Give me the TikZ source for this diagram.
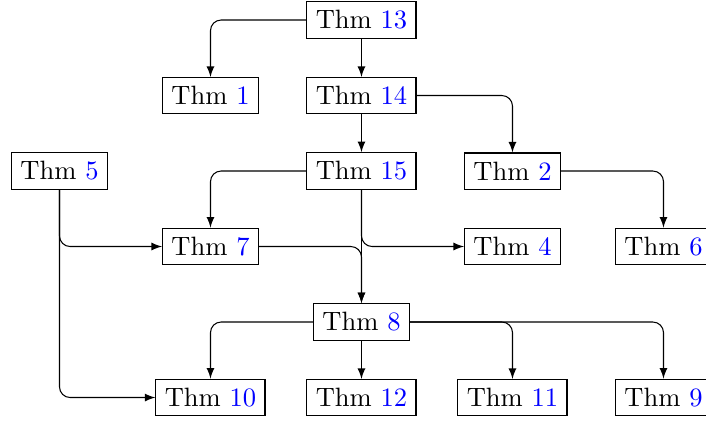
\documentclass[tikz,border=0pt]{standalone}
\usetikzlibrary{arrows}
\tikzset{
  thm/.style={draw, rectangle, inner sep=0.333em, line width=0.4pt},
  link/.style={-latex, rounded corners=4pt, line width=0.4pt},
}
\newcommand{\thmref}[1]{Thm \textcolor{blue}{#1}}
\begin{document}
\begin{tikzpicture}
  \useasboundingbox (-4.788,-5.325) rectangle (4.563,0.265);
  % theorem boxes on a 2cm x 1cm grid
  \node[thm] (t13) at (0,0)  {\thmref{13}};
  \node[thm] (t1)  at (-2,-1) {\thmref{1}};
  \node[thm] (t14) at (0,-1)  {\thmref{14}};
  \node[thm] (t5)  at (-4,-2) {\thmref{5}};
  \node[thm] (t15) at (0,-2)  {\thmref{15}};
  \node[thm] (t2)  at (2,-2)  {\thmref{2}};
  \node[thm] (t7)  at (-2,-3) {\thmref{7}};
  \node[thm] (t4)  at (2,-3)  {\thmref{4}};
  \node[thm] (t6)  at (4,-3)  {\thmref{6}};
  \node[thm] (t8)  at (0,-4)  {\thmref{8}};
  \node[thm] (t10) at (-2,-5) {\thmref{10}};
  \node[thm] (t12) at (0,-5)  {\thmref{12}};
  \node[thm] (t11) at (2,-5)  {\thmref{11}};
  \node[thm] (t9)  at (4,-5)  {\thmref{9}};
  % dependencies
  \draw[link] (t13.west) -| (t1.north);
  \draw[link] (t13) -- (t14);
  \draw[link] (t14) -- (t15);
  \draw[link] (t14.east) -| (t2.north);
  \draw[link] (t15.west) -| (t7.north);
  \draw[link] (t15.south) |- (t4.west);
  \draw[link] (t15) -- (t8);
  \draw[link] (t2.east) -| (t6.north);
  \draw[link] (t5.south) |- (t7.west);
  \draw[link] (t5.south) |- (t10.west);
  \draw[link] (t7.east) -| (t8.north);
  \draw[link] (t8.west) -| (t10.north);
  \draw[link] (t8) -- (t12);
  \draw[link] (t8.east) -| (t11.north);
  \draw[link] (t8.east) -| (t9.north);
\end{tikzpicture}
\end{document}
